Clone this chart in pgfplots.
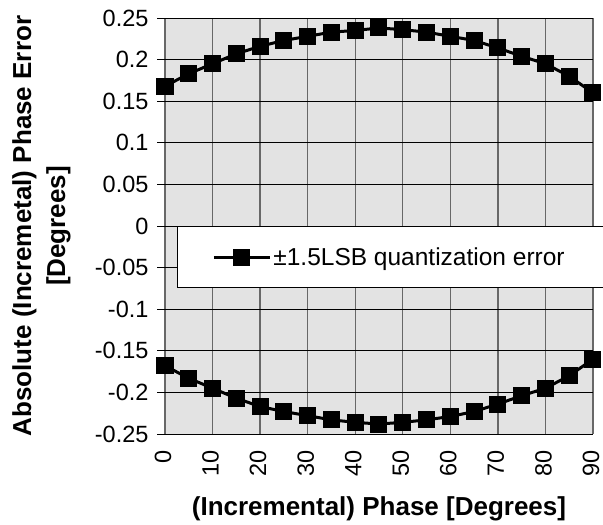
\documentclass[border=0pt]{standalone}
\usepackage{pgfplots}
\pgfplotsset{compat=1.18}
\usepackage{fontspec}
\setmainfont{Liberation Sans}
\definecolor{plotbg}{HTML}{E3E3E3}
\definecolor{vgrid}{HTML}{686868}
\begin{document}
\begin{tikzpicture}
\path[use as bounding box] (0,0) rectangle (603bp,525bp);
\begin{axis}[
  at={(165bp,91bp)}, anchor=south west,
  scale only axis, width=428bp, height=416bp,
  xmin=0, xmax=90, ymin=-0.25, ymax=0.25,
  xtick={0,10,20,30,40,50,60,70,80,90},
  ytick={-0.25,-0.2,-0.15,-0.1,-0.05,0,0.05,0.1,0.15,0.2,0.25},
  yticklabels={-0.25,-0.2,-0.15,-0.1,-0.05,0,0.05,0.1,0.15,0.2,0.25},
  xticklabels={0,10,20,30,40,50,60,70,80,90},
  grid=major,
  major x grid style={draw=vgrid, line width=1.3bp},
  major y grid style={draw=black, line width=0.8bp},
  axis background/.style={fill=plotbg},
  axis line style={draw=none},
  xtick pos=bottom, ytick pos=left,
  tick align=outside, major tick length=8bp,
  tick style={black, line width=0.8bp},
  xtick style={draw=none},
  yticklabel style={font=\fontsize{23.5bp}{28bp}\selectfont, anchor=east, xshift=-5bp},
  xticklabel style={font=\fontsize{23.5bp}{28bp}\selectfont, rotate=90, anchor=east,
    xshift=-5bp, yshift=2bp, inner ysep=0.5bp},
  xlabel={(Incremental) Phase [Degrees]},
  xlabel style={at={(axis description cs:0.5,0)}, anchor=center, yshift=-75bp,
    font=\bfseries\fontsize{26bp}{30bp}\selectfont},
  ylabel={Absolute (Incremetal) Phase Error\\{[Degrees]}},
  ylabel style={at={(axis description cs:-0.2885,0.5)}, anchor=center, align=center,
    font=\bfseries\fontsize{26bp}{34bp}\selectfont},
  clip=false,
  legend style={at={(axis cs:2.52,0)}, anchor=north west, draw=black, fill=white,
    line width=0.8bp, font=\fontsize{24.5bp}{28bp}\selectfont,
    inner xsep=35bp, inner ysep=19bp},
  legend cell align=left,
  legend image code/.code={\draw[#1, mark repeat=2, mark phase=2] plot coordinates {(0bp,0bp) (28bp,0bp) (56bp,0bp)};},
]
\addplot[black, line width=3bp, mark=square*, mark size=7bp, mark options={solid}] coordinates {
(0,0.168) (5,0.183) (10,0.195) (15,0.207) (20,0.216) (25,0.223) (30,0.228)
(35,0.233) (40,0.235) (45,0.238) (50,0.236) (55,0.233) (60,0.228) (65,0.223)
(70,0.214) (75,0.204) (80,0.195) (85,0.180) (90,0.160)};
\addlegendentry{±1.5LSB quantization error\hspace*{40bp}}
\addplot[black, line width=3bp, mark=square*, mark size=7bp, forget plot] coordinates {
(0,-0.168) (5,-0.183) (10,-0.195) (15,-0.207) (20,-0.217) (25,-0.223) (30,-0.228)
(35,-0.233) (40,-0.236) (45,-0.238) (50,-0.236) (55,-0.233) (60,-0.229) (65,-0.223)
(70,-0.214) (75,-0.204) (80,-0.195) (85,-0.180) (90,-0.160)};
\end{axis}
\end{tikzpicture}
\end{document}
